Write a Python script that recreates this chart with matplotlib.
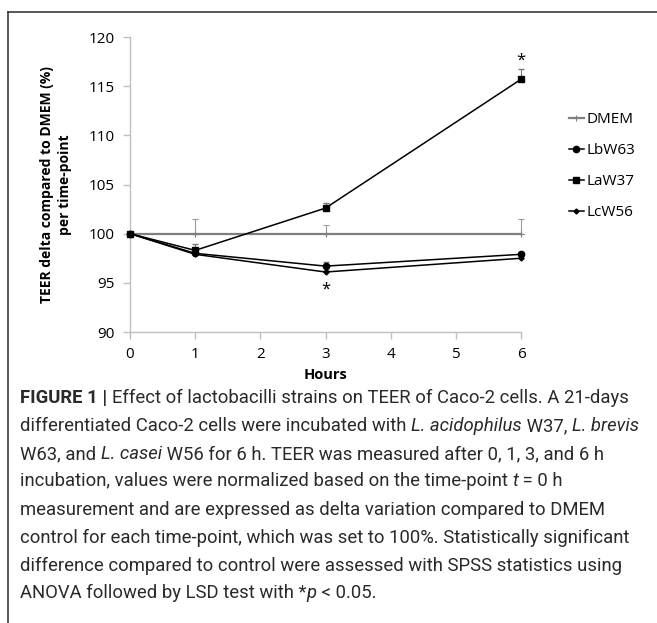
import matplotlib
matplotlib.use("Agg")
import matplotlib.pyplot as plt
from matplotlib.lines import Line2D

# data
hours = [0, 1, 3, 6]
dmem = [100, 100, 100, 100]
dmem_err = [0, 1.5, 0.9, 1.5]
lbw63 = [100, 98.0, 96.7, 97.9]
lbw63_err = [0, 0.3, 0.4, 0.2]
law37 = [100, 98.3, 102.6, 115.7]
law37_err = [0, 0.6, 0.5, 1.0]
lcw56 = [100, 97.9, 96.1, 97.5]
lcw56_err = [0, 0.2, 0.2, 0.2]
stars = [(6, 117.6), (3, 94.3)]

W, H = 657, 623
fig = plt.figure(figsize=(W / 100, H / 100), dpi=100)
ax = fig.add_axes([130 / W, 1 - 332 / H, (521 - 130) / W, (332 - 37) / H])

chart_font = "Open Sans"
axis_grey = "#bfbfbf"

series = [
    ("DMEM", dmem, dmem_err, dict(color="#7f7f7f", lw=1.6, marker="+", ms=4,
                                  mew=0.8), "#9a9a9a"),
    ("LbW63", lbw63, lbw63_err, dict(color="black", lw=1.1, marker="o",
                                     ms=4.5), "#777777"),
    ("LaW37", law37, law37_err, dict(color="black", lw=1.1, marker="s",
                                     ms=4), "#777777"),
    ("LcW56", lcw56, lcw56_err, dict(color="black", lw=1.1, marker="D",
                                     ms=2.5), "#777777"),
]

handles = []
for name, vals, err, style, ecol in series:
    cont = ax.errorbar(hours, vals, yerr=[[0] * 4, err], ecolor=ecol,
                       elinewidth=0.8, capsize=2, label=name,
                       zorder=3 if name != "DMEM" else 2, **style)
    for art in cont.get_children():
        art.set_clip_on(False)
    handles.append(cont[0])

for x, y in stars:
    ax.text(x, y, "*", ha="center", va="center", fontsize=12,
            family=chart_font)

ax.set_xlim(0, 6)
ax.set_ylim(90, 120)
ax.set_xticks(range(7))
ax.set_yticks(range(90, 121, 5))
for side in ["top", "right"]:
    ax.spines[side].set_visible(False)
for side in ["left", "bottom"]:
    ax.spines[side].set_color(axis_grey)
    ax.spines[side].set_linewidth(1)
ax.tick_params(colors=axis_grey, labelcolor="black", length=5, width=1,
               labelsize=11)
ax.tick_params(axis="y", pad=6)
ax.tick_params(axis="x", pad=6)
for lbl in ax.get_xticklabels() + ax.get_yticklabels():
    lbl.set_family(chart_font)

ax.set_xlabel("Hours", fontsize=10.5, fontweight="bold", family=chart_font,
              labelpad=4)
ax.set_ylabel("TEER delta compared to DMEM (%)\nper time-point",
              fontsize=10, fontweight="bold", family=chart_font,
              labelpad=12, linespacing=1.35)

ax.legend(handles, [s[0] for s in series], loc="center left",
          bbox_to_anchor=(555 / W, 1 - 166 / H),
          bbox_transform=fig.transFigure, frameon=False,
          handlelength=1.0, handletextpad=0.15, labelspacing=1.05,
          prop={"family": chart_font, "size": 11})

# panel frame
frame_col = "#3a3a3a"
fig.add_artist(Line2D([8 / W, 1], [1 - 12 / H, 1 - 12 / H],
                      transform=fig.transFigure, color=frame_col, lw=1.2))
fig.add_artist(Line2D([8 / W, 8 / W], [1 - 12 / H, 0],
                      transform=fig.transFigure, color=frame_col, lw=1.2))

# caption, drawn piece by piece so bold / italic runs can mix
cap_font = "Roboto"
cap_size = 13.3
cap_lines = [
    [("FIGURE 1 | ", "bold", "normal"),
     ("Effect of lactobacilli strains on TEER of Caco-2 cells. A 21-days", "normal", "normal")],
    [("differentiated Caco-2 cells were incubated with ", "normal", "normal"),
     ("L. acidophilus", "normal", "italic"), (" W37, ", "normal", "normal"),
     ("L. brevis", "normal", "italic")],
    [("W63, and ", "normal", "normal"), ("L. casei", "normal", "italic"),
     (" W56 for 6 h. TEER was measured after 0, 1, 3, and 6 h", "normal", "normal")],
    [("incubation, values were normalized based on the time-point ", "normal", "normal"),
     ("t", "normal", "italic"), (" = 0 h", "normal", "normal")],
    [("measurement and are expressed as delta variation compared to DMEM", "normal", "normal")],
    [("control for each time-point, which was set to 100%. Statistically significant", "normal", "normal")],
    [("difference compared to control were assessed with SPSS statistics using", "normal", "normal")],
    [("ANOVA followed by LSD test with *", "normal", "normal"), ("p", "normal", "italic"),
     (" < 0.05.", "normal", "normal")],
]
line_y = [398, 426, 454, 481, 510, 538, 566, 593]

renderer = fig.canvas.get_renderer()
for pieces, y in zip(cap_lines, line_y):
    x = 20
    for txt, weight, style in pieces:
        t = fig.text(x / W, 1 - y / H, txt, fontsize=cap_size, family=cap_font,
                     fontweight=weight, fontstyle=style, va="center",
                     ha="left", color="#2a2a2a")
        x += t.get_window_extent(renderer).width

fig.savefig("out.png", dpi=100)
